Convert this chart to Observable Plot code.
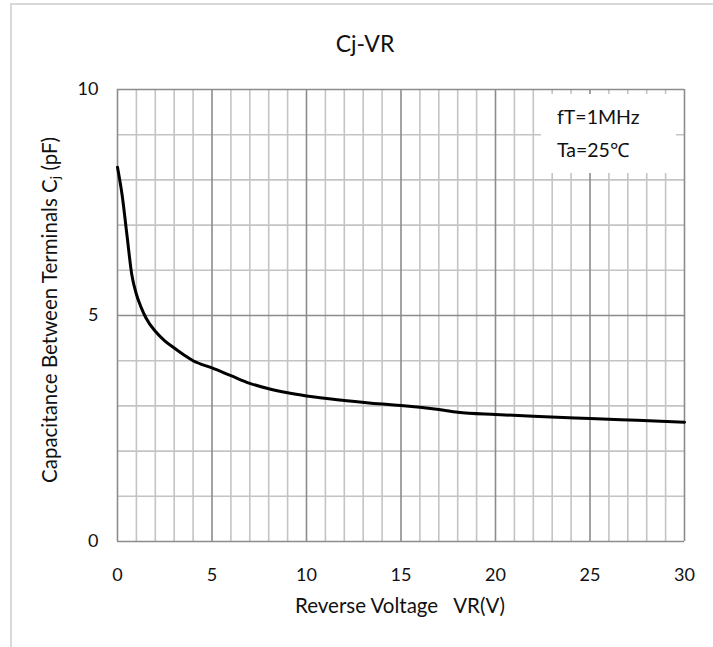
<!DOCTYPE html>
<html>
<head>
<meta charset="utf-8">
<script src="https://cdn.jsdelivr.net/npm/d3@7"></script>
<script src="https://cdn.jsdelivr.net/npm/@observablehq/plot@0.6"></script>
<style>
  body { margin: 0; background: #fff; font-family: Lato, "Open Sans", sans-serif; color: #111; }
  #wrap { position: relative; width: 713px; height: 647px; overflow: hidden; background: #fff; }
  #border { position: absolute; left: 10px; top: 3px; width: 760px; height: 760px;
            border-left: 2px solid #d9d9d9; border-top: 2px solid #d9d9d9; }
  #chart { position: absolute; left: 0; top: 0; }
  .txt { position: absolute; white-space: pre; line-height: 1; }
  #title { left: 265px; width: 200px; top: 32px; text-align: center; font-size: 23px; }
  #xlabel { left: 250px; width: 300px; top: 595px; text-align: center; font-size: 20.5px; }
  #ylabel { left: 49px; top: 310px; font-size: 20.5px; transform: translate(-50%, -50%) rotate(-90deg); }
  #ylabel sub { font-size: 14px; vertical-align: -3px; line-height: 0; }
  #legend { position: absolute; left: 541px; top: 94px; width: 135px; height: 79px; background: #fff; }
  #legend .txt { left: 16px; font-size: 19.5px; }
</style>
</head>
<body>
<div id="wrap">
  <div id="border"></div>
  <div id="chart"></div>
  <div id="legend">
    <div class="txt" id="leg1" style="top:13px">fT=1MHz</div>
    <div class="txt" id="leg2" style="top:46px">Ta=25℃</div>
  </div>
  <div class="txt" id="title">Cj-VR</div>
  <div class="txt" id="xlabel">Reverse Voltage   VR(V)</div>
  <div class="txt" id="ylabel">Capacitance Between Terminals C<sub>j</sub> (pF)</div>
</div>
<script>
// Reverse voltage (V)
const voltage = [0, 0.25, 0.5, 0.75, 1, 1.25, 1.5, 2, 2.5, 3, 3.5, 4, 5, 6, 7, 8, 9, 10, 12, 14, 15, 17, 18, 20, 22, 25, 27.5, 30];
// Capacitance between terminals Cj (pF)
const capacitance = [8.28, 7.65, 6.78, 5.92, 5.47, 5.18, 4.95, 4.65, 4.44, 4.28, 4.13, 4.0, 3.84, 3.67, 3.5, 3.38, 3.29, 3.22, 3.12, 3.04, 3.01, 2.92, 2.86, 2.81, 2.77, 2.72, 2.68, 2.64];

const xTicks = [0, 5, 10, 15, 20, 25, 30];
const yTicks = [0, 5, 10];
const xMinorGrid = [1, 2, 3, 4, 6, 7, 8, 9, 11, 12, 13, 14, 16, 17, 18, 19, 21, 22, 23, 24, 26, 27, 28, 29];
const yMinorGrid = [1, 2, 3, 4, 6, 7, 8, 9];

const data = voltage.map((v, i) => ({ v, c: capacitance[i] }));

const plot = Plot.plot({
  width: 713,
  height: 647,
  marginLeft: 117,
  marginRight: 29,
  marginTop: 89,
  marginBottom: 106,
  x: { domain: [0, 30] },
  y: { domain: [0, 10] },
  style: { fontFamily: "Lato, 'Open Sans', sans-serif", fontSize: "18px", color: "#111", background: "transparent", overflow: "visible" },
  marks: [
    Plot.ruleX(xMinorGrid, { stroke: "#c4c4c4", strokeWidth: 1.6 }),
    Plot.ruleY(yMinorGrid, { stroke: "#c4c4c4", strokeWidth: 1.6 }),
    Plot.ruleX(xTicks, { stroke: "#8c8c8c", strokeWidth: 1.6 }),
    Plot.ruleY(yTicks, { stroke: "#8c8c8c", strokeWidth: 1.6 }),
    Plot.line(data, { x: "v", y: "c", stroke: "#000", strokeWidth: 3, curve: "monotone-x" }),
    Plot.axisX({ ticks: xTicks, tickSize: 0, tickPadding: 27, label: null }),
    Plot.axisY({ ticks: yTicks, tickSize: 0, tickPadding: 19, label: null })
  ]
});
document.getElementById("chart").appendChild(plot);
</script>
</body>
</html>
